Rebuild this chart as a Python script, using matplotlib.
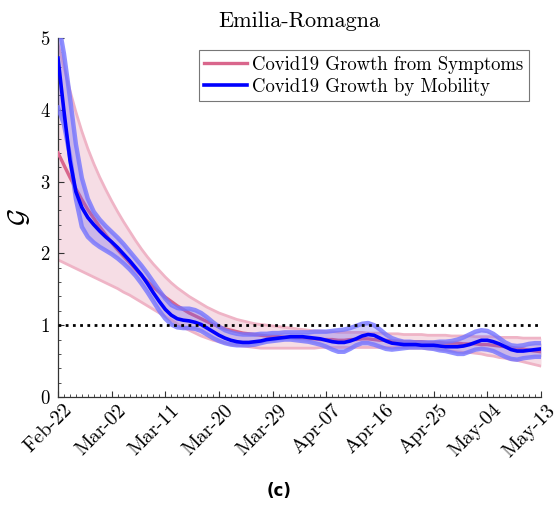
import matplotlib
matplotlib.use('Agg')
import matplotlib.pyplot as plt
import matplotlib.transforms as mtransforms
import numpy as np
from matplotlib.ticker import MultipleLocator, FixedLocator
from matplotlib.lines import Line2D

plt.rcParams['font.family'] = ['cmr10', 'DejaVu Serif']
plt.rcParams['mathtext.fontset'] = 'cm'
plt.rcParams['axes.formatter.use_mathtext'] = True

# ---- data (day index 0 = Feb-22, 81 = May-13) ----
tick_labels = ['Feb-22', 'Mar-02', 'Mar-11', 'Mar-20', 'Mar-29', 'Apr-07',
               'Apr-16', 'Apr-25', 'May-04', 'May-13']
tick_days = [0, 9, 18, 27, 36, 45, 54, 63, 72, 81]

symptoms_mid = [3.40, 3.23, 3.06, 2.90, 2.75, 2.61, 2.49, 2.37, 2.26, 2.15,
                2.05, 1.96, 1.87, 1.78, 1.69, 1.61, 1.53, 1.46, 1.39, 1.33,
                1.27, 1.22, 1.17, 1.13, 1.09, 1.05, 1.01, 0.98, 0.95, 0.93,
                0.91, 0.89, 0.88, 0.87, 0.86, 0.85, 0.84, 0.84, 0.83, 0.83,
                0.82, 0.82, 0.81, 0.81, 0.80, 0.80, 0.80, 0.79, 0.79, 0.80,
                0.80, 0.81, 0.81, 0.80, 0.79, 0.79, 0.78, 0.78, 0.77, 0.77,
                0.77, 0.77, 0.76, 0.76, 0.76, 0.75, 0.75, 0.75, 0.74, 0.74,
                0.74, 0.73, 0.73, 0.72, 0.71, 0.70, 0.69, 0.68, 0.67, 0.65,
                0.64, 0.63]
symptoms_hi = [4.92, 4.59, 4.27, 3.97, 3.70, 3.46, 3.25, 3.06, 2.89, 2.73,
               2.58, 2.44, 2.31, 2.18, 2.06, 1.95, 1.85, 1.76, 1.67, 1.59,
               1.52, 1.46, 1.40, 1.35, 1.30, 1.25, 1.21, 1.17, 1.14, 1.11,
               1.08, 1.06, 1.04, 1.02, 1.01, 1.00, 0.99, 0.98, 0.97, 0.96,
               0.95, 0.94, 0.93, 0.92, 0.92, 0.91, 0.91, 0.90, 0.90, 0.90,
               0.90, 0.90, 0.89, 0.89, 0.89, 0.88, 0.88, 0.88, 0.87, 0.87,
               0.87, 0.87, 0.86, 0.86, 0.86, 0.86, 0.85, 0.85, 0.85, 0.85,
               0.84, 0.84, 0.84, 0.84, 0.83, 0.83, 0.83, 0.83, 0.82, 0.82,
               0.82, 0.82]
symptoms_lo = [1.91, 1.87, 1.83, 1.79, 1.75, 1.71, 1.67, 1.63, 1.59, 1.55,
               1.51, 1.46, 1.42, 1.37, 1.32, 1.27, 1.22, 1.17, 1.12, 1.07,
               1.02, 0.97, 0.93, 0.89, 0.85, 0.82, 0.79, 0.77, 0.75, 0.73,
               0.72, 0.71, 0.70, 0.69, 0.68, 0.68, 0.68, 0.68, 0.68, 0.68,
               0.68, 0.68, 0.68, 0.68, 0.69, 0.69, 0.69, 0.69, 0.69, 0.69,
               0.69, 0.69, 0.69, 0.69, 0.69, 0.69, 0.69, 0.69, 0.69, 0.68,
               0.68, 0.68, 0.67, 0.67, 0.66, 0.65, 0.64, 0.63, 0.62, 0.62,
               0.61, 0.60, 0.58, 0.57, 0.55, 0.54, 0.52, 0.51, 0.49, 0.47,
               0.45, 0.43]

mobility_mid = [4.72, 3.98, 3.30, 2.86, 2.64, 2.50, 2.40, 2.31, 2.23, 2.16,
                2.08, 1.99, 1.90, 1.80, 1.70, 1.58, 1.45, 1.33, 1.22, 1.14,
                1.09, 1.07, 1.06, 1.04, 1.01, 0.96, 0.91, 0.86, 0.82, 0.79,
                0.77, 0.76, 0.76, 0.77, 0.78, 0.80, 0.81, 0.82, 0.83, 0.84,
                0.84, 0.84, 0.83, 0.82, 0.81, 0.79, 0.77, 0.76, 0.76, 0.78,
                0.81, 0.85, 0.87, 0.86, 0.82, 0.78, 0.75, 0.74, 0.73, 0.73,
                0.73, 0.72, 0.72, 0.72, 0.71, 0.70, 0.70, 0.70, 0.71, 0.73,
                0.76, 0.79, 0.79, 0.77, 0.74, 0.70, 0.66, 0.64, 0.64, 0.65,
                0.66, 0.67]
mobility_hi = [5.25, 4.78, 4.17, 3.52, 3.05, 2.76, 2.58, 2.47, 2.38, 2.30,
               2.22, 2.13, 2.03, 1.93, 1.83, 1.72, 1.60, 1.48, 1.37, 1.28,
               1.24, 1.23, 1.23, 1.21, 1.17, 1.11, 1.04, 0.98, 0.93, 0.90,
               0.88, 0.87, 0.87, 0.87, 0.88, 0.88, 0.89, 0.89, 0.90, 0.90,
               0.90, 0.90, 0.90, 0.91, 0.91, 0.91, 0.92, 0.93, 0.94, 0.96,
               0.99, 1.02, 1.03, 1.00, 0.94, 0.87, 0.82, 0.79, 0.77, 0.77,
               0.76, 0.76, 0.76, 0.76, 0.77, 0.77, 0.78, 0.80, 0.83, 0.87,
               0.91, 0.93, 0.92, 0.88, 0.82, 0.76, 0.72, 0.71, 0.72, 0.74,
               0.75, 0.75]
mobility_lo = [4.03, 3.80, 3.36, 2.76, 2.37, 2.23, 2.15, 2.09, 2.04, 1.99,
               1.93, 1.86, 1.78, 1.69, 1.58, 1.46, 1.33, 1.20, 1.09, 1.01,
               0.97, 0.96, 0.96, 0.95, 0.92, 0.87, 0.82, 0.78, 0.75, 0.73,
               0.72, 0.72, 0.72, 0.73, 0.75, 0.77, 0.78, 0.79, 0.80, 0.80,
               0.79, 0.78, 0.77, 0.75, 0.73, 0.70, 0.66, 0.63, 0.63, 0.67,
               0.72, 0.75, 0.75, 0.73, 0.70, 0.67, 0.66, 0.67, 0.68, 0.69,
               0.69, 0.69, 0.68, 0.67, 0.65, 0.64, 0.62, 0.60, 0.60, 0.63,
               0.66, 0.67, 0.66, 0.64, 0.60, 0.56, 0.53, 0.52, 0.54, 0.55,
               0.56, 0.56]

days = np.arange(len(symptoms_mid))

fig = plt.figure(figsize=(5.59, 5.09), dpi=100)
ax = fig.add_axes([58/559, 1-397/509, (541-58)/559, (397-38)/509])

# symptoms band
ax.fill_between(days, symptoms_lo, symptoms_hi, color='#f6dde5', lw=0, zorder=1)
ax.plot(days, symptoms_hi, color='#efb4c6', lw=2.0, zorder=2, solid_joinstyle='round')
ax.plot(days, symptoms_lo, color='#efb4c6', lw=2.0, zorder=2, solid_joinstyle='round')
ax.plot(days, symptoms_mid, color='#d9668c', lw=2.4, zorder=3, solid_joinstyle='round')

# mobility band
ax.fill_between(days, mobility_lo, mobility_hi, color='#6a5cf0', alpha=0.30, lw=0, zorder=4)
ax.plot(days, mobility_hi, color='#7474ff', alpha=0.8, lw=3.2, zorder=5, solid_joinstyle='round')
ax.plot(days, mobility_lo, color='#7474ff', alpha=0.8, lw=3.2, zorder=5, solid_joinstyle='round')
ax.plot(days, mobility_mid, color='#0000ff', lw=2.6, zorder=6, solid_joinstyle='round')

# threshold
ax.axhline(1.0, color='black', lw=2.0, ls=(0, (1, 1.6)), zorder=7)

ax.set_xlim(0, 81)
ax.set_ylim(0, 5)
ax.spines['top'].set_visible(False)
ax.spines['right'].set_visible(False)
for s in ('left', 'bottom'):
    ax.spines[s].set_color('#333333')
    ax.spines[s].set_linewidth(0.9)

ax.xaxis.set_major_locator(FixedLocator(tick_days))
ax.set_xticklabels(tick_labels, rotation=45, ha='right', rotation_mode='anchor', fontsize=14.5)
ax.xaxis.set_minor_locator(MultipleLocator(1))
ax.set_yticks([0, 1, 2, 3, 4, 5])
ax.yaxis.set_minor_locator(MultipleLocator(0.2))
ax.set_yticklabels(['0', '1', '2', '3', '4', '5'], fontsize=13.5)
ax.tick_params(which='major', direction='in', length=4, width=0.8, color='#333333')
ax.tick_params(which='minor', direction='in', length=2.2, width=0.6, color='#333333')
ax.tick_params(axis='y', which='major', pad=6)
ax.tick_params(axis='x', which='major', pad=3)
offset = mtransforms.ScaledTranslation(5/100, 0, fig.dpi_scale_trans)
for lab in ax.get_xticklabels():
    lab.set_transform(lab.get_transform() + offset)

ax.set_ylabel(r'$\mathcal{G}$', fontsize=19, labelpad=6)
ax.set_title('Emilia-Romagna', fontsize=16, pad=8)

handles = [Line2D([], [], color='#d9668c', lw=2.4),
           Line2D([], [], color='#0000ff', lw=2.6)]
leg = ax.legend(handles, ['Covid19 Growth from Symptoms', 'Covid19 Growth by Mobility'],
                loc='upper right', bbox_to_anchor=(529/483 - 58/483, 1 - 12/359), fontsize=13.5,
                frameon=True, fancybox=False, handlelength=2.3, handletextpad=0.25,
                borderpad=0.3, labelspacing=0.22, borderaxespad=0)
leg.get_frame().set_edgecolor('#555555')
leg.get_frame().set_linewidth(0.8)

fig.text(279/559, 1-491/509, '(c)', ha='center', va='center', fontsize=12,
         fontweight='bold', family='DejaVu Sans')

fig.savefig('out.png', dpi=100)
